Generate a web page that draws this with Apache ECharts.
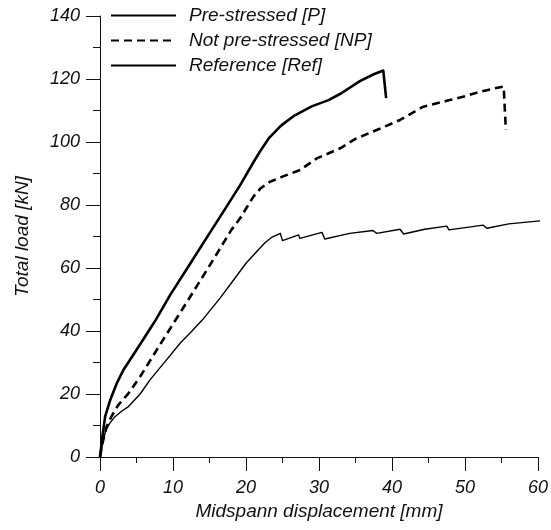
<!DOCTYPE html>
<html>
<head>
<meta charset="utf-8">
<style>
  html, body { margin: 0; padding: 0; background: #fff; }
  #chart { width: 551px; height: 530px; }
</style>
<script src="https://cdn.jsdelivr.net/npm/echarts@6/dist/echarts.min.js"></script>
</head>
<body>
<div id="chart"></div>
<script>
// series names
const seriesNames = ['Pre-stressed [P]', 'Not pre-stressed [NP]', 'Reference [Ref]'];

// [displacement mm, load kN]
const prestressed = [
    [0, 0], [0.3, 6], [0.7, 12.8], [1.4, 18.1], [2.3, 23.4], [3.2, 27.6], [4.1, 30.8],
    [5.5, 35.8], [7.5, 43], [9.6, 51.4], [12.5, 61.9], [15.3, 72.1], [17.1, 78.6],
    [19.2, 86.3], [21, 93.5], [22, 97.3], [23.2, 101.4], [24.8, 105.2], [26.5, 108.2],
    [29, 111.3], [31.3, 113.3], [33, 115.4], [35.6, 119.3], [37.5, 121.5], [38.8, 122.7],
    [39.2, 113.9]
];
const notPrestressed = [
    [0, 0], [0.4, 5], [0.9, 9.6], [1.6, 13], [2.5, 16.5], [3.9, 20.2], [5.5, 25.5],
    [8.5, 36.7], [11.9, 49.2], [15, 60.7], [18, 72.1], [19.2, 75.8], [20.2, 79.6],
    [21, 82.6], [22, 85.3], [23.3, 87.4], [25, 89], [27.4, 91.1], [29.7, 94.8], [32.9, 98],
    [35, 101], [38.4, 104.3], [41.1, 107], [44.3, 111.2], [47.9, 113.3], [50, 114.5],
    [52.1, 116], [54.8, 117.4], [55.3, 117.6], [55.6, 103.8]
];
const reference = [
    [0, 0], [0.4, 5], [0.8, 8.5], [1.3, 10.6], [2.05, 12.8], [3, 14.6], [3.9, 16],
    [5.5, 20], [6.85, 24.5], [9, 30.5], [11, 36.2], [12.6, 40], [14.2, 44], [16.5, 50.6],
    [18.3, 56.2], [20, 61.5], [21.7, 65.8], [22.6, 68], [23.5, 69.7], [24.7, 71],
    [25.0, 68.7], [27.2, 70.5], [27.4, 69.4], [30.4, 71.3], [30.8, 69.2], [34.2, 71],
    [37.4, 71.9], [37.9, 71], [41.1, 72.3], [41.6, 70.8], [44.5, 72.3], [47.5, 73.3],
    [47.8, 72.1], [52.5, 73.6], [53, 72.6], [56, 74], [60.5, 75.0], [60.6, 72.6]
];

// axis ranges
const xRange = { min: 0, max: 60, interval: 10 };
const yRange = { min: 0, max: 140, interval: 20 };

const fontFamily = '"Liberation Sans", Arial, sans-serif';
const ink = '#111';

const chart = echarts.init(document.getElementById('chart'));

const axisCommon = {
    type: 'value',
    nameLocation: 'middle',
    nameTextStyle: { fontFamily: fontFamily, fontStyle: 'italic', fontSize: 19, color: ink },
    axisLine: { show: true, lineStyle: { color: ink, width: 1 } },
    axisTick: { show: true, length: 14, lineStyle: { color: ink, width: 1 } },
    minorTick: { show: true, splitNumber: 2, length: 7, lineStyle: { color: ink, width: 1 } },
    splitLine: { show: false },
    axisLabel: { fontFamily: fontFamily, fontStyle: 'italic', fontSize: 18, color: ink }
};

const option = {
    animation: false,
    backgroundColor: '#fff',
    grid: { left: 100, right: 13, top: 16, bottom: 73, containLabel: false },
    legend: {
        orient: 'vertical',
        left: 110,
        top: 6,
        padding: 0,
        itemWidth: 65,
        itemHeight: 20,
        itemGap: 6,
        data: seriesNames,
        itemStyle: { opacity: 0 },
        textStyle: {
            fontFamily: fontFamily, fontStyle: 'italic', fontSize: 19, color: ink,
            padding: [0, 0, 0, 8]
        }
    },
    xAxis: Object.assign({}, axisCommon, {
        name: 'Midspann displacement [mm]',
        nameGap: 38,
        min: xRange.min, max: xRange.max, interval: xRange.interval,
        minorTick: Object.assign({}, axisCommon.minorTick, { length: 6 }),
        axisLabel: Object.assign({}, axisCommon.axisLabel, { margin: 22 })
    }),
    yAxis: Object.assign({}, axisCommon, {
        name: 'Total load [kN]',
        nameGap: 68,
        min: yRange.min, max: yRange.max, interval: yRange.interval,
        axisLabel: Object.assign({}, axisCommon.axisLabel, { margin: 20 })
    }),
    series: [
        {
            name: seriesNames[0], type: 'line', data: prestressed,
            symbol: 'none', clip: false,
            itemStyle: { color: '#000' },
            lineStyle: { color: '#000', width: 2.6, type: 'solid', join: 'round' }
        },
        {
            name: seriesNames[1], type: 'line', data: notPrestressed,
            symbol: 'none', clip: false,
            itemStyle: { color: '#000' },
            lineStyle: { color: '#000', width: 2.6, type: [8, 5] }
        },
        {
            name: seriesNames[2], type: 'line', data: reference,
            symbol: 'none', clip: false,
            itemStyle: { color: '#000' },
            lineStyle: { color: '#000', width: 1.4, type: 'solid', join: 'round' }
        }
    ]
};

chart.setOption(option);
</script>
</body>
</html>
